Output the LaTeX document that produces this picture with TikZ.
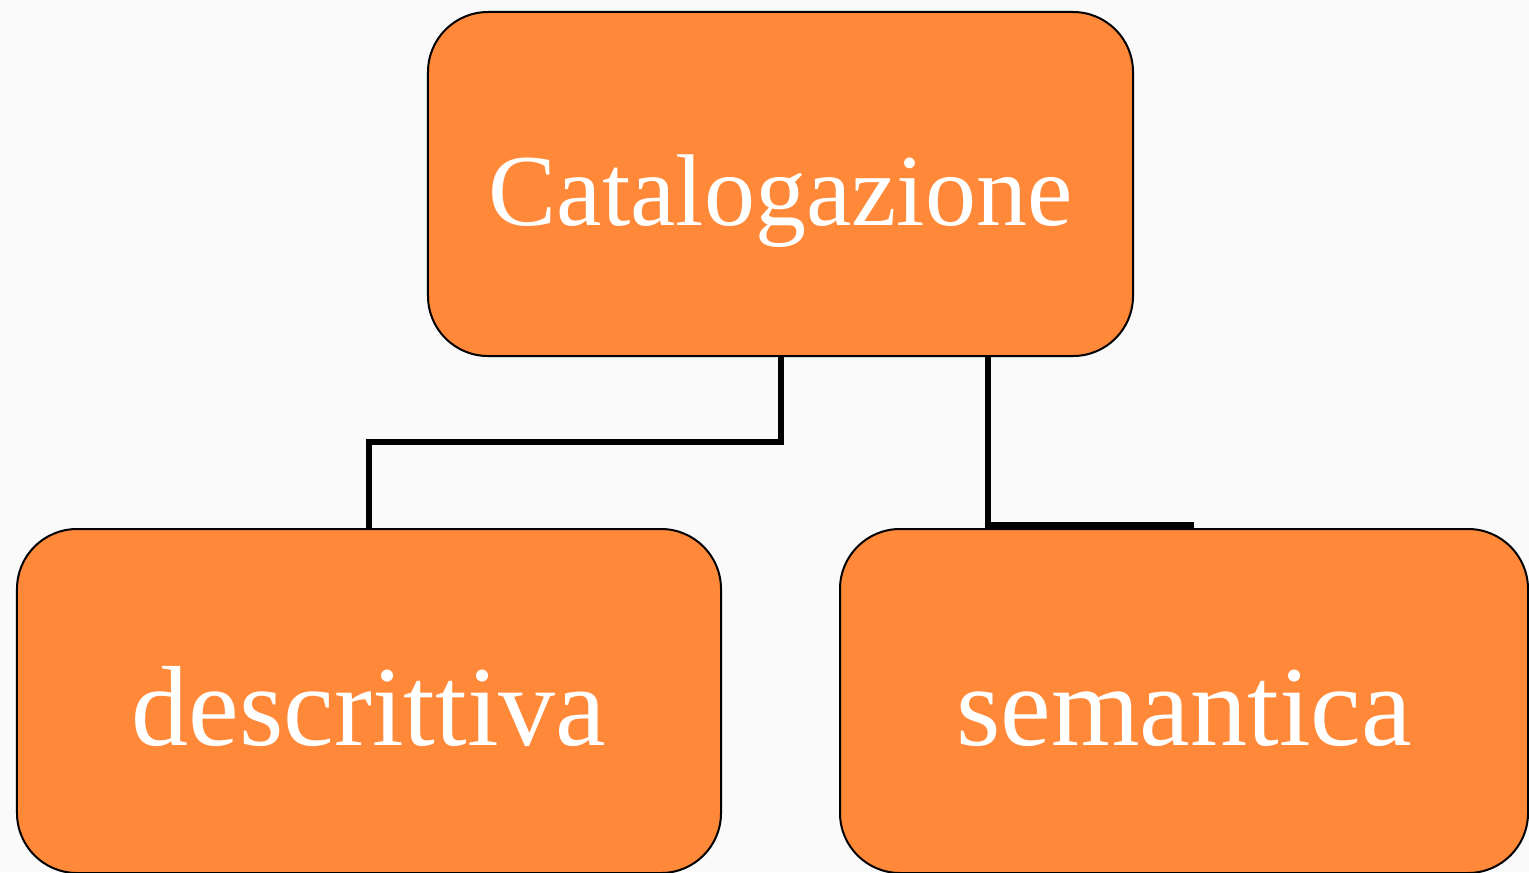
\documentclass[tikz,border=0pt]{standalone}
\usepackage{fontspec}
\setmainfont{Liberation Serif}
\usetikzlibrary{calc}
\definecolor{bgc}{RGB}{250,250,250}
\definecolor{boxorange}{RGB}{255,137,57}
\tikzset{
  catbox/.style={draw=black, line width=1bp, fill=boxorange, rounded corners=30bp,
    inner sep=0pt, text=white, align=center, text depth=0pt},
  conn/.style={draw=black, line width=3bp}
}
\begin{document}
\begin{tikzpicture}[x=0.5bp, y=-0.5bp]
\useasboundingbox (0,0) rectangle (1529,872);
\clip (0,0) rectangle (1529,872);
\fill[bgc] (0,0) rectangle (1529,872);
\node[catbox, minimum width=352.5bp, minimum height=172bp, text height=41bp, font=\fontsize{51bp}{60bp}\selectfont] (top) at (780.5,184) {Catalogazione};
\node[catbox, minimum width=352bp, minimum height=172bp, text height=44bp, font=\fontsize{57bp}{66bp}\selectfont] (left) at (369,701) {descrittiva};
\node[catbox, minimum width=344bp, minimum height=172bp, text height=44bp, font=\fontsize{57bp}{66bp}\selectfont] (right) at (1184,701) {semantica};
\draw[conn] (top.south) -- ++(0,85) -| (left.north);
\coordinate (c2) at ($(top.south west)!0.793!(top.south east)$);
\draw[conn] (c2) |- ([xshift=5bp,yshift=1.5bp]right.north);
\end{tikzpicture}
\end{document}
